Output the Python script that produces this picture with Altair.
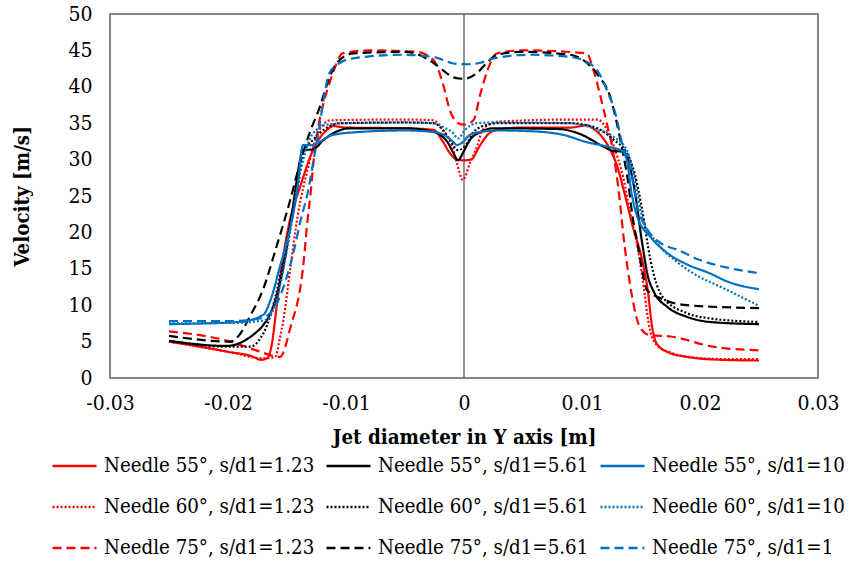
import altair as alt
import pandas as pd

FONT = "DejaVu Serif Condensed, DejaVu Serif, serif"

SERIES = [
    "Needle 55°, s/d1=1.23", "Needle 60°, s/d1=1.23", "Needle 75°, s/d1=1.23",
    "Needle 55°, s/d1=5.61", "Needle 60°, s/d1=5.61", "Needle 75°, s/d1=5.61",
    "Needle 55°, s/d1=10", "Needle 60°, s/d1=10", "Needle 75°, s/d1=1",
]
COLORS = ["#FF0000"] * 3 + ["#000000"] * 3 + ["#0070C0"] * 3
DASHES = [[1, 0], [2, 2], [9, 5]] * 3

X_TICKS = [-0.03, -0.02, -0.01, 0, 0.01, 0.02, 0.03]
Y_TICKS = [0, 5, 10, 15, 20, 25, 30, 35, 40, 45, 50]
X_ZERO = [0.0]

R55_X = [-0.025, -0.022, -0.020, -0.018, -0.0172, -0.0167, -0.0163, -0.0159, -0.01545, -0.01475, -0.0139, -0.0128, -0.0116, -0.0111, -0.0100, -0.0050, -0.0026, -0.0018, -0.0012, -0.0006, 0.0, 0.0006, 0.0013, 0.0020, 0.0028, 0.0050, 0.0090, 0.0104, 0.0110, 0.0119, 0.0125, 0.0130, 0.0136, 0.0143, 0.0151, 0.0156, 0.0159, 0.0163, 0.0172, 0.0189, 0.0217, 0.0250]
R55_V = [5.0, 4.2, 3.6, 3.0, 2.5, 2.7, 4.5, 9.5, 15.3, 21.7, 26.2, 31.3, 34.1, 34.6, 34.4, 34.3, 34.1, 32.5, 30.9, 30.0, 29.9, 30.0, 31.8, 33.4, 34.1, 34.4, 34.4, 34.7, 34.2, 32.7, 31.0, 29.0, 25.4, 20.8, 16.2, 11.7, 7.5, 4.8, 3.6, 2.9, 2.5, 2.4]

K55_X = [-0.025, -0.0201, -0.0190, -0.0179, -0.0170, -0.0164, -0.0158, -0.0153, -0.0145, -0.0139, -0.0137, -0.0128, -0.0119, -0.0111, -0.0097, -0.0050, -0.0026, -0.0014, -0.0009, -0.0005, -0.0001, 0.0005, 0.0014, 0.0025, 0.0080, 0.0100, 0.0118, 0.0126, 0.0134, 0.0139, 0.0145, 0.0151, 0.0156, 0.0161, 0.0172, 0.0189, 0.0208, 0.0250]
K55_V = [5.1, 4.4, 4.8, 5.9, 7.3, 8.9, 11.7, 15.3, 23.5, 29.9, 31.3, 31.4, 32.7, 33.6, 34.3, 34.3, 33.8, 32.4, 30.9, 29.9, 30.9, 32.7, 33.8, 34.3, 34.2, 33.4, 31.8, 31.2, 31.1, 29.9, 25.4, 18.5, 13.9, 11.8, 9.8, 8.4, 7.7, 7.4]

B55_X = [-0.025, -0.0190, -0.0170, -0.0164, -0.0156, -0.0147, -0.0141, -0.0137, -0.0136, -0.0128, -0.0125, -0.0111, -0.0088, -0.0050, -0.0026, -0.0014, -0.0009, -0.0006, -0.0001, 0.0005, 0.0014, 0.0030, 0.0056, 0.0084, 0.0104, 0.0121, 0.0134, 0.0138, 0.0142, 0.0147, 0.0158, 0.0172, 0.0189, 0.0208, 0.0224, 0.0250]
B55_V = [7.4, 7.7, 8.7, 10.7, 15.3, 20.8, 26.2, 31.8, 32.0, 32.0, 32.2, 33.4, 33.8, 34.0, 33.8, 33.1, 32.4, 32.0, 32.4, 33.4, 33.8, 34.0, 33.9, 33.4, 32.4, 31.8, 31.2, 29.9, 25.4, 22.1, 19.4, 17.2, 15.6, 14.4, 13.2, 12.2]

R60_X = [-0.025, -0.020, -0.0170, -0.0160, -0.0156, -0.0153, -0.0147, -0.0141, -0.0132, -0.0124, -0.0113, -0.0050, -0.0026, -0.0018, -0.0010, -0.0006, -0.0001, 0.0005, 0.0011, 0.0016, 0.0028, 0.0090, 0.0113, 0.0122, 0.0127, 0.0135, 0.0141, 0.0147, 0.0153, 0.0156, 0.0159, 0.0165, 0.0175, 0.0190, 0.0220, 0.0250]
R60_V = [5.0, 3.6, 2.7, 2.9, 5.5, 8.0, 15.3, 22.2, 29.0, 33.6, 35.4, 35.5, 35.4, 34.1, 31.8, 29.5, 27.2, 29.5, 31.8, 34.1, 35.2, 35.5, 35.5, 33.8, 31.8, 27.5, 22.5, 18.0, 11.7, 8.0, 5.7, 4.3, 3.5, 2.9, 2.6, 2.6]

K60_X = [-0.025, -0.0200, -0.0181, -0.0172, -0.0167, -0.0159, -0.0150, -0.0141, -0.0136, -0.0128, -0.0117, -0.0105, -0.0050, -0.0026, -0.0018, -0.0012, -0.0005, 0.0003, 0.0008, 0.0020, 0.0030, 0.0090, 0.0113, 0.0127, 0.0138, 0.0143, 0.0151, 0.0158, 0.0168, 0.0189, 0.0208, 0.0250]
K60_V = [5.1, 4.3, 4.3, 5.6, 7.2, 11.7, 19.0, 26.2, 30.9, 32.7, 34.3, 35.0, 35.1, 35.0, 34.1, 32.7, 31.3, 32.3, 33.8, 34.8, 35.0, 35.0, 34.3, 32.7, 30.9, 29.0, 23.1, 16.2, 11.2, 8.9, 8.2, 7.7]

B60_X = [-0.025, -0.0190, -0.0167, -0.0159, -0.0150, -0.0139, -0.0133, -0.0128, -0.0116, -0.0100, -0.0050, -0.0026, -0.0018, -0.0009, -0.0005, 0.0001, 0.0011, 0.0030, 0.0090, 0.0113, 0.0127, 0.0138, 0.0141, 0.0147, 0.0151, 0.0164, 0.0180, 0.0194, 0.0223, 0.0250]
B60_V = [7.5, 7.6, 8.0, 10.7, 17.6, 28.1, 31.8, 33.6, 34.8, 35.0, 35.1, 35.0, 34.5, 33.6, 32.9, 34.1, 35.0, 35.1, 35.0, 34.1, 33.1, 31.3, 29.9, 25.4, 22.1, 18.5, 16.0, 14.4, 12.1, 9.9]

R75_X = [-0.025, -0.0198, -0.0176, -0.0156, -0.0147, -0.0136, -0.0133, -0.0130, -0.0127, -0.0124, -0.0119, -0.0114, -0.0108, -0.0103, -0.0080, -0.0040, -0.0026, -0.0018, -0.0012, -0.0005, 0.0, 0.0008, 0.0014, 0.0020, 0.0028, 0.0050, 0.0104, 0.0109, 0.0115, 0.0121, 0.0127, 0.0131, 0.0136, 0.0142, 0.0149, 0.0157, 0.0175, 0.0211, 0.0250]
R75_V = [6.4, 5.0, 3.8, 2.9, 7.0, 15.8, 21.0, 25.4, 30.5, 34.0, 37.8, 40.5, 43.2, 44.6, 45.0, 44.8, 43.7, 40.5, 36.8, 35.0, 34.8, 35.4, 39.1, 42.3, 44.6, 45.0, 44.6, 42.7, 39.1, 35.0, 30.5, 25.8, 18.3, 11.6, 7.0, 5.9, 5.7, 4.3, 3.8]

K75_X = [-0.025, -0.0198, -0.0190, -0.0182, -0.0170, -0.0159, -0.0148, -0.0139, -0.0131, -0.0122, -0.0114, -0.0108, -0.0094, -0.0050, -0.0026, -0.0018, -0.0009, 0.0, 0.0011, 0.0020, 0.0028, 0.0050, 0.0090, 0.0104, 0.0115, 0.0124, 0.0129, 0.0134, 0.0139, 0.0143, 0.0147, 0.0151, 0.0155, 0.0166, 0.0189, 0.0250]
K75_V = [5.8, 5.0, 6.0, 8.3, 12.3, 18.0, 24.0, 29.5, 33.6, 37.3, 41.3, 43.2, 44.6, 44.8, 43.3, 42.3, 41.3, 41.1, 41.9, 43.4, 44.4, 44.8, 44.4, 43.3, 41.3, 38.6, 35.4, 31.5, 27.0, 22.0, 18.5, 14.8, 12.1, 11.0, 10.0, 9.6]

B75_X = [-0.025, -0.0200, -0.0173, -0.0162, -0.0150, -0.0144, -0.0139, -0.0132, -0.0127, -0.0123, -0.0119, -0.0114, -0.0105, -0.0094, -0.0054, -0.0026, -0.0018, -0.0009, 0.0003, 0.0014, 0.0025, 0.0056, 0.0090, 0.0110, 0.0121, 0.0129, 0.0134, 0.0141, 0.0147, 0.0155, 0.0167, 0.0181, 0.0200, 0.0222, 0.0250]
B75_V = [7.8, 7.8, 8.2, 9.3, 14.0, 17.6, 21.3, 25.8, 30.4, 34.0, 38.2, 41.9, 43.3, 43.9, 44.4, 44.1, 43.7, 43.2, 43.1, 43.3, 43.9, 44.4, 44.1, 42.8, 39.6, 35.9, 32.2, 29.0, 23.5, 20.5, 18.5, 17.6, 16.2, 15.2, 14.4]

ALL_X = [R55_X, R60_X, R75_X, K55_X, K60_X, K75_X, B55_X, B60_X, B75_X]
ALL_V = [R55_V, R60_V, R75_V, K55_V, K60_V, K75_V, B55_V, B60_V, B75_V]

rows = []
for name, xs, vs in zip(SERIES, ALL_X, ALL_V):
    if len(xs) != len(vs):
        raise ValueError(f"length mismatch in {name}: {len(xs)} vs {len(vs)}")
    for i, (x, v) in enumerate(zip(xs, vs)):
        rows.append({"series": name, "x": x, "v": v, "i": i})
df = pd.DataFrame(rows)

legend = alt.Legend(
    title=None, orient="none", legendX=-59, legendY=441, columns=3,
    symbolType="stroke", symbolSize=1936, symbolStrokeWidth=2.5,
    labelFont=FONT, labelFontSize=20.3, labelColor="#000000", labelOffset=6,
    labelLimit=400, columnPadding=10, rowPadding=19, clipHeight=22, padding=0,
)

x_axis = alt.Axis(
    values=X_TICKS, title="Jet diameter in Y axis [m]", labelExpr="'' + datum.value",
    grid=False, ticks=False, domain=False, labelFont=FONT, labelFontSize=21,
    labelColor="#000000", labelPadding=14, labelFlush=False, labelOverlap=False,
    titleFont=FONT, titleFontSize=20.4, titleFontWeight="bold", titleColor="#000000",
    titleY=59, titleBaseline="middle",
)
y_axis = alt.Axis(
    values=Y_TICKS, title="Velocity [m/s]", grid=False, ticks=False, domain=False,
    labelFont=FONT, labelFontSize=21, labelColor="#000000", labelPadding=18,
    labelOverlap=False, labelFlush=False,
    titleFont=FONT, titleFontSize=20.4, titleFontWeight="bold", titleColor="#000000",
    titleX=-88, titleBaseline="middle",
)

x_scale = alt.Scale(domain=[-0.03, 0.03], nice=False, zero=False)
y_scale = alt.Scale(domain=[0, 50], nice=False)

zero_line = alt.Chart(pd.DataFrame({"x": X_ZERO})).mark_rule(
    color="#6e6e6e", strokeWidth=1.5
).encode(x=alt.X("x:Q", scale=x_scale, axis=x_axis))

lines = alt.Chart(df).mark_line(strokeWidth=2.2, interpolate="monotone").encode(
    x=alt.X("x:Q", scale=x_scale, axis=x_axis),
    y=alt.Y("v:Q", scale=y_scale, axis=y_axis),
    color=alt.Color("series:N", scale=alt.Scale(domain=SERIES, range=COLORS), legend=legend),
    strokeDash=alt.StrokeDash("series:N", scale=alt.Scale(domain=SERIES, range=DASHES), legend=legend),
    order=alt.Order("i:Q"),
)

chart = alt.layer(zero_line, lines).properties(
    width=708, height=364,
    autosize=alt.AutoSizeParams(type="none"),
    padding={"left": 110, "top": 14, "right": 38, "bottom": 184},
    background="#ffffff",
).configure_view(stroke="#5f5f5f", strokeWidth=1.5)

chart.save("out.html", embed_options={"renderer": "svg", "actions": False})
